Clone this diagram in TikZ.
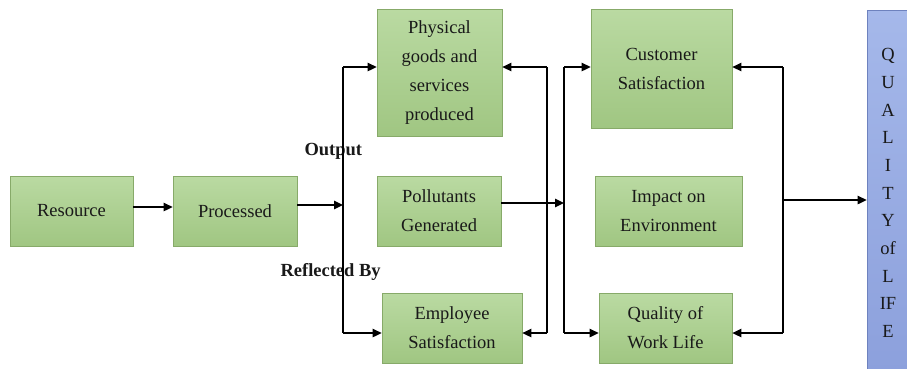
\documentclass[tikz,border=0pt]{standalone}
\usepackage{fontspec}
\setmainfont{Liberation Serif}
\usetikzlibrary{arrows.meta}
\definecolor{gtop}{RGB}{186,218,162}
\definecolor{gbot}{RGB}{160,198,130}
\definecolor{gline}{RGB}{135,170,105}
\definecolor{btop}{RGB}{165,184,234}
\definecolor{bbot}{RGB}{140,160,220}
\definecolor{bline}{RGB}{110,130,190}
\definecolor{ink}{RGB}{25,25,25}
\begin{document}
\begin{tikzpicture}[x=1pt,y=-1pt,
  gbox/.style={draw=gline, line width=0.8pt, top color=gtop, bottom color=gbot,
    align=center, inner sep=2pt, text=ink,
    font=\fontsize{18.5}{29}\selectfont},
  conn/.style={line width=1.3pt, draw=black},
  tip/.style={conn, -{Triangle[length=9pt,width=8.5pt]}},
  lbl/.style={font=\fontsize{18.5}{22}\selectfont\bfseries, text=ink}
]
\useasboundingbox (0,0) rectangle (907,368);
% boxes
\node[gbox, minimum width=123pt, minimum height=70pt] (res) at (71.5,211) {Resource};
\node[gbox, minimum width=124pt, minimum height=70pt] (proc) at (235,211) {Processed};
\node[gbox, minimum width=125pt, minimum height=127pt] (phys) at (439.5,72.5) {\raisebox{-3pt}{\parbox{120pt}{\centering Physical\\goods and\\services\\produced}}};
\node[gbox, minimum width=124pt, minimum height=70pt] (poll) at (439,211) {Pollutants\\Generated};
\node[gbox, minimum width=140pt, minimum height=70pt] (emp) at (452,328) {Employee\\Satisfaction};
\node[gbox, minimum width=141pt, minimum height=119pt] (cust) at (661.5,68.5) {Customer\\Satisfaction};
\node[gbox, minimum width=147pt, minimum height=70pt] (imp) at (668.5,211) {Impact on\\Environment};
\node[gbox, minimum width=133pt, minimum height=70pt] (qwl) at (665.5,328) {Quality of\\Work Life};
\begin{scope}
\clip (0,0) rectangle (907,368);
\node[draw=bline, line width=0.8pt, top color=btop, bottom color=bbot,
  minimum width=46pt, minimum height=362pt, inner sep=0pt] (qol) at (890,191) {};
\end{scope}
\node[text=ink, align=center, font=\fontsize{18.5}{27.7}\selectfont] (qoltxt) at (888,193)
  {Q\\U\\A\\L\\I\\T\\Y\\of\\L\\IF\\E};
% labels
\node[lbl, anchor=west] (out) at (301,151) {Output};
\node[lbl, anchor=west] (refl) at (277,272) {Reflected By};
% junction coordinates
\coordinate (v1t) at (343,67);
\coordinate (v1b) at (343,333);
\coordinate (v1m) at (343,205);
\coordinate (v2t) at (547,67);
\coordinate (v2b) at (547,333);
\coordinate (v3t) at (564,67);
\coordinate (v3b) at (564,333);
\coordinate (v3m) at (564,203);
\coordinate (v4t) at (783,67);
\coordinate (v4b) at (783,333);
\coordinate (v4m) at (783,200);
% connectors
\draw[tip] ([yshift=4pt]res.east) -- ([yshift=4pt]proc.west);
\draw[tip] (proc.east |- v1m) -- (v1m);
\draw[conn] (v1t) -- (v1b);
\draw[tip] (v1t) -- (v1t -| phys.west);
\draw[tip] (v1b) -- (v1b -| emp.west);
\draw[conn] (v2t) -- (v2b);
\draw[tip] (v2t) -- (v2t -| phys.east);
\draw[tip] (v2b) -- (v2b -| emp.east);
\draw[tip] (poll.east |- v3m) -- (v3m);
\draw[conn] (v3t) -- (v3b);
\draw[tip] (v3t) -- (v3t -| cust.west);
\draw[tip] (v3b) -- (v3b -| qwl.west);
\draw[conn] (v4t) -- (v4b);
\draw[tip] (v4t) -- (v4t -| cust.east);
\draw[tip] (v4b) -- (v4b -| qwl.east);
\draw[tip] (v4m) -- (v4m -| qol.west);
\end{tikzpicture}
\end{document}
